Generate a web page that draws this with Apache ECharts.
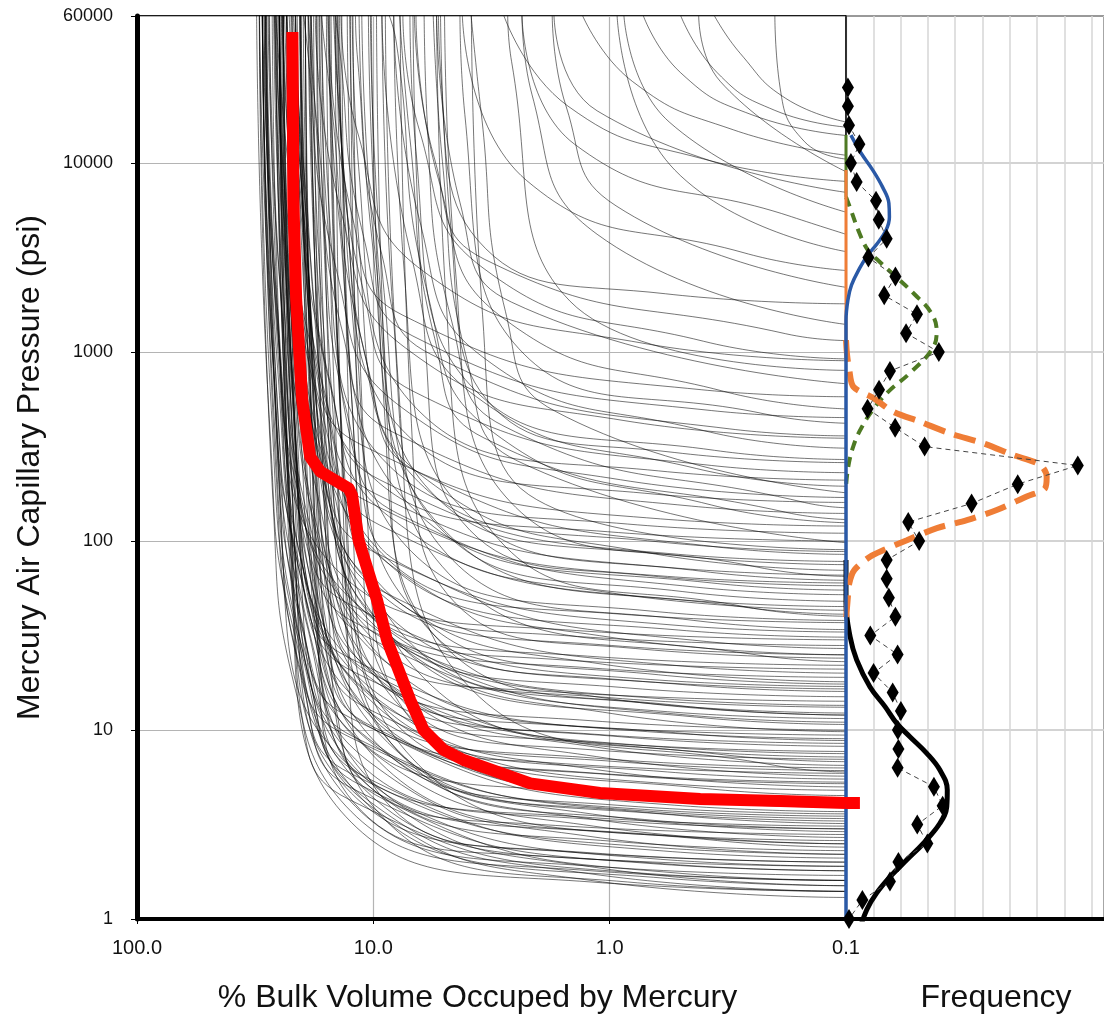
<!DOCTYPE html>
<html>
<head>
<meta charset="utf-8">
<script src="https://cdn.jsdelivr.net/npm/echarts@6/dist/echarts.min.js"></script>
<style>
  html, body { margin: 0; padding: 0; background: #ffffff; }
  #chart { width: 1104px; height: 1016px; }
</style>
</head>
<body>
<div id="chart"></div>
<script>
// Mercury injection curves, one per sample: [% bulk volume occupied, pressure psi]
const sampleCurves = [
  [[0.1,1.4],[1.2,1.57],[12.4,3.25],[22.1,60],[25,7e4]],
  [[0.1,1.5],[0.57,1.64],[10.6,4.05],[21.9,156],[25,7e4]],
  [[0.1,1.6],[0.69,1.74],[12.8,4.32],[20.9,14.6],[26.6,166],[30.4,7e4]],
  [[0.1,1.7],[1.16,1.9],[11.9,3.94],[21.3,73],[24.2,7e4]],
  [[0.1,1.8],[0.59,1.96],[10.9,4.86],[22.7,187],[25.9,7e4]],
  [[0.1,1.9],[0.61,2.07],[11.3,5.1],[18.4,17.3],[23.4,198],[26.8,7e4]],
  [[0.1,2.0],[1.2,2.24],[12.4,4.64],[22.1,86],[25.1,7e4]],
  [[0.1,2.2],[0.67,2.4],[12.5,5.9],[20.2,20],[25.8,229],[29.5,7e4]],
  [[0.1,2.3],[0.98,2.58],[10.1,5.3],[18.0,99],[20.4,7e4]],
  [[0.1,2.5],[0.51,2.73],[9.4,6.75],[19.5,260],[22.3,7e4]],
  [[0.1,2.6],[1.11,2.9],[11.5,6.0],[20.5,112],[23.3,7e4]],
  [[0.1,2.8],[1.94,3.16],[11.2,5.5],[17.2,49],[19.4,7e4]],
  [[0.1,3.0],[1.16,3.36],[11.9,7.0],[21.3,129],[24.1,7e4]],
  [[0.1,3.2],[0.47,3.5],[8.7,8.6],[18,333],[20.5,7e4]],
  [[0.1,3.4],[0.65,3.7],[12.1,9.2],[19.6,31],[25,354],[28.6,7e4]],
  [[0.1,3.6],[0.93,4.0],[9.6,8.4],[17.2,155],[19.4,7e4]],
  [[0.1,3.9],[0.55,4.25],[10.2,10.5],[16.6,35.5],[21.1,406],[24.1,7e4]],
  [[0.1,4.2],[1.2,4.7],[12.4,9.7],[22.1,181],[25,7e4]],
  [[0.1,4.5],[0.39,4.9],[7.2,12.2],[14.8,468],[17,7e4]],
  [[0.1,4.8],[0.57,5.2],[10.6,13],[17.2,43.7],[21.9,500],[25,7e4]],
  [[0.1,5.2],[0.98,5.8],[10.1,12.1],[18,224],[20.3,7e4]],
  [[0.1,5.5],[0.57,6.0],[10.6,14.9],[21.9,572],[25,7e4]],
  [[0.1,5.9],[1.75,6.7],[10.1,11.6],[15.5,103],[17.4,7e4]],
  [[0.1,6.3],[1.16,7.1],[11.9,14.6],[21.3,271],[24,7e4]],
  [[0.1,6.8],[0.33,7.4],[6.0,18.4],[12.5,707],[14.3,7e4]],
  [[0.1,7.2],[0.53,7.85],[9.8,19.4],[16,65.5],[20.3,749],[23.2,7e4]],
  [[0.1,7.7],[1.16,8.6],[11.9,17.9],[21.3,331],[24.1,7e4]],
  [[0.1,8.2],[0.89,9.2],[9.2,19],[16.4,353],[18.5,7e4]],
  [[0.1,8.8],[0.49,9.6],[9.1,23.8],[18.8,915],[21.4,7e4]],
  [[0.1,9.4],[1.65,10.6],[9.5,18.4],[14.7,165],[16.5,7e4]],
  [[0.1,10],[1.2,11.2],[12.4,23.2],[22.1,430],[25,7e4]],
  [[0.1,10.7],[0.43,11.7],[7.9,28.9],[16.4,1113],[18.8,7e4]],
  [[0.1,11.5],[0.57,12.5],[10.6,31],[17.2,105],[21.9,1196],[25,7e4]],
  [[0.1,12.3],[0.67,13.8],[6.9,28.5],[12.3,529],[13.9,7e4]],
  [[0.1,13.2],[0.98,14.8],[10.1,30.6],[18,568],[20.3,7e4]],
  [[0.1,14.2],[1.84,16],[10.6,27.8],[16.4,249],[18.4,7e4]],
  [[0.1,16],[0.49,17.4],[9.1,43],[18.8,1664],[21,7e4]],
  [[0.1,17.5],[0.62,19.6],[6.4,40.6],[11.5,753],[12.9,7e4]],
  [[0.1,19],[1.2,21.3],[12.4,44],[22.1,817],[24.8,7e4]],
  [[0.1,21],[1.75,23.7],[10.1,41],[15.5,368],[17.3,7e4]],
  [[0.1,23],[0.24,25],[4.5,62],[9.4,2392],[10.5,7e4]],
  [[0.1,25],[0.98,28],[10.1,58],[18,1075],[20.2,7e4]],
  [[0.1,28],[1.55,31.6],[8.9,55],[13.8,490],[15.4,7e4]],
  [[0.1,31],[0.51,33.8],[9.4,84],[19.5,3224],[22,7e4]],
  [[0.1,34],[0.44,38],[4.6,79],[8.2,1462],[9.2,7e4]],
  [[0.1,37],[0.89,41],[9.2,86],[16.4,1591],[18.3,7e4]],
  [[0.1,41],[0.27,44.7],[4.9,111],[10.2,4264],[11.5,7e4]],
  [[0.1,45],[0.51,49],[9.4,121.5],[15.3,410],[19.5,4680],[22.3,7e4]],
  [[0.1,55],[0.37,60],[6.8,149],[14.1,5720],[15.6,7e4]],
  [[0.1,62],[0.4,69],[4.1,144],[7.4,2666],[8.2,7e4]],
  [[0.1,70],[0.7,87],[5.9,210],[11.2,1150],[15.3,24500],[16.8,7e4]],
  [[0.1,78],[0.51,85],[9.4,211],[15.3,710],[19.5,8112],[21.9,7e4]],
  [[0.1,88],[0.62,99],[6.4,204],[11.5,3784],[12.6,7e4]],
  [[0.1,98],[2.45,265],[4.0,892],[5.1,10190],[5.6,7e4]],
  [[0.1,110],[0.84,123],[8.7,255],[15.6,4730],[16.9,7e4]],
  [[0.1,125],[0.37,155],[3.1,375],[5.9,2050],[8.0,43750],[9.0,7e4]],
  [[0.1,140],[0.45,153],[8.3,378],[13.5,1274],[17.2,14560],[19,7e4]],
  [[0.1,160],[0.71,179],[7.3,371],[13.1,6880],[14.2,7e4]],
  [[0.1,180],[1.7,486],[2.76,1638],[3.5,18720],[3.9,7e4]],
  [[0.1,195],[0.43,242],[3.7,585],[6.9,3200],[9.2,6e4]],
  [[0.1,230],[0.37,251],[6.8,621],[11.0,2093],[14.1,23920],[14.5,6e4]],
  [[0.1,270],[0.36,302],[3.7,626],[6.6,11610],[7.0,6e4]],
  [[0.1,310],[0.4,384],[3.4,930],[6.4,5090],[8.2,6e4]],
  [[0.1,360],[0.31,392],[5.7,972],[9.2,3276],[11.7,37440],[11.9,6e4]],
  [[0.1,420],[0.22,470],[2.3,974],[4.1,18060],[4.3,6e4]],
  [[0.1,500],[0.33,620],[2.8,1500],[5.3,8200],[6.6,6e4]],
  [[0.1,580],[0.41,632],[7.5,1566],[12.3,5278],[15.5,6e4]],
  [[0.1,680],[2.6,1836],[4.3,6188],[5.4,6e4]],
  [[0.1,800],[1.47,1856],[2.6,34400],[2.7,6e4]],
  [[0.1,920],[0.4,1140],[3.4,2760],[6.4,15090],[7.5,6e4]],
  [[0.1,1150],[0.18,1250],[3.4,3105],[5.5,10465],[6.7,6e4]],
  [[0.1,1400],[1.13,4200],[2.13,22960],[2.35,6e4]],
  [[0.1,1800],[0.58,2034],[3.35,3528],[5.2,31500],[5.3,6e4]],
  [[0.1,2200],[0.94,5940],[1.53,20020],[1.75,6e4]],
  [[0.1,2700],[0.27,3350],[2.25,8100],[4.2,6e4]],
  [[0.1,3400],[0.53,9180],[0.93,6e4]],
  [[0.1,4200],[0.17,5200],[1.41,12600],[2.35,6e4]],
  [[0.1,5500],[0.56,16500],[0.87,6e4]],
  [[0.1,7000],[1.13,18900],[1.72,6e4]],
  [[0.1,9000],[0.34,27000],[0.42,6e4]],
  [[0.1,14000],[0.25,18000],[0.5,30000],[0.72,6e4]],
  [[0.1,15500],[0.2,19000],[0.35,30000],[0.5,6e4]],
  [[0.1,16500],[0.18,22000],[0.28,38000],[0.36,6e4]],
  [[0.1,11000],[0.3,15000],[0.8,27000],[1.3,6e4]],
  [[0.1,8000],[0.4,10500],[1.5,20000],[2.8,6e4]],
  [[0.1,10500],[0.15,13000],[0.19,25000],[0.2,6e4]],
  [[0.1,40],[0.27,45],[2.75,93],[4.9,1720],[5.4,7e4]],
  [[0.1,90],[2.2,176],[3.45,1575],[3.85,7e4]],
  [[0.1,150],[0.15,160],[2.8,405],[4.6,1365],[5.9,15600],[6.1,7e4]],
  [[0.1,24],[0.78,27],[4.5,47],[6.9,420],[7.7,7e4]],
  [[0.1,65],[0.24,73],[2.5,151],[4.5,2795],[5.0,7e4]],
  [[0.1,12],[0.49,13.4],[5.0,27.8],[9.0,516],[10.2,7e4]],
  [[0.1,7],[1.26,7.9],[7.3,13.7],[11.2,122],[12.5,7e4]],
  [[0.1,3.3],[0.76,3.7],[7.8,7.7],[13.9,142],[15.8,7e4]],
  [[0.1,2.0],[1.46,2.26],[8.4,3.9],[12.9,35],[14.5,7e4]],
  [[0.1,1.6],[0.49,1.74],[9.1,4.32],[14.7,14.6],[18.8,166],[21.4,7e4]],
  [[0.1,2.9],[1.2,3.6],[10.1,8.7],[19.1,47.6],[26.3,1015],[29.5,7e4]],
  [[0.1,5.0],[1.17,6.2],[9.9,15],[18.6,82],[25.5,1750],[28.7,7e4]],
  [[0.1,9.0],[0.69,9.8],[12.8,24.3],[20.9,82],[26.6,936],[30.4,7e4]],
  [[0.1,1.3],[1.2,1.6],[10.1,3.9],[19.1,21.3],[26.3,455],[29.5,7e4]],
  [[0.1,17],[0.67,18.5],[12.5,46],[20.2,155],[25.8,1768],[29.5,7e4]],
  [[0.1,30],[1.38,33.6],[14.2,70],[25.4,1290],[29,7e4]],
  [[0.1,60],[0.57,65],[10.6,162],[17.2,546],[21.9,6240],[24.5,7e4]],
  [[0.1,120],[0.61,131],[11.3,324],[18.4,1092],[23.4,12480],[26,7e4]],
  [[0.1,1.4],[0.84,1.57],[8.7,3.25],[15.6,60],[17.9,7e4]],
  [[0.1,2.4],[0.35,2.6],[6.4,6.5],[13.3,250],[15.3,7e4]],
  [[0.1,4.0],[0.58,4.5],[6.0,9.3],[10.7,172],[12.2,7e4]],
  [[0.1,6.0],[0.2,6.5],[3.8,16.2],[7.8,624],[8.9,7e4]],
  [[0.1,350],[0.87,434],[7.3,1050],[13.8,5740],[17.6,6e4]],
  [[0.1,900],[0.73,1116],[6.2,2700],[11.7,14760],[13.7,6e4]],
  [[0.1,1.4],[1.23,1.74],[10.4,4.2],[19.7,23],[27,490],[30.3,7e4]],
  [[0.1,2.2],[1.2,2.73],[10.1,6.6],[19.1,36],[26.3,770],[29.5,7e4]],
  [[0.1,3.5],[0.71,3.8],[13.2,9.45],[21.5,31.9],[27.3,364],[31.2,7e4]],
  [[0.1,6.5],[1.13,8.1],[9.6,19.5],[18.1,107],[24.8,2275],[27.9,7e4]],
  [[0.1,12],[1.1,14.9],[9.3,36],[17.6,197],[24.1,4200],[26.2,7e4]],
  [[0.1,25],[1.0,31],[8.5,75],[16,410],[21.9,8750],[23.3,7e4]],
  [[0.1,1.5],[1.1,1.86],[9.3,4.5],[17.6,24.6],[24.1,525],[27.5,7e4]],
  [[0.1,1.8],[0.65,1.96],[12.1,4.86],[19.6,16.4],[25,187],[28.6,7e4]],
  [[0.1,2.1],[0.59,2.29],[10.9,5.67],[17.8,19.1],[22.7,218],[25.9,7e4]],
  [[0.1,2.7],[1.13,3.35],[9.6,8.1],[18.1,44],[24.8,945],[28.3,7e4]],
  [[0.1,3.1],[1.33,3.47],[13.8,7.2],[24.6,133],[28.3,7e4]],
  [[0.1,3.7],[0.53,4.0],[9.8,10],[16,33.7],[20.3,385],[23.2,7e4]],
  [[0.1,4.3],[0.67,4.7],[12.5,11.6],[20.2,39],[25.8,447],[29.5,7e4]],
  [[0.1,5.7],[1.03,7.1],[8.7,17.1],[16.5,93.5],[22.6,1995],[25.8,7e4]],
  [[0.1,6.1],[0.93,6.8],[9.6,14.2],[17.2,262],[19.8,7e4]],
  [[0.1,7.5],[0.65,8.2],[12.1,20.3],[19.6,68],[25,780],[28.6,7e4]],
  [[0.1,8.5],[1.16,9.5],[11.9,19.7],[21.3,365],[24.5,7e4]],
  [[0.1,9.8],[0.97,12.2],[8.2,29.4],[15.4,161],[21.2,3430],[24.2,7e4]],
  [[0.1,11],[0.47,12],[8.7,29.7],[14.1,100],[18,1144],[20.5,7e4]],
  [[0.1,13.5],[0.63,14.7],[11.7,36.5],[19,123],[24.2,1404],[27.7,7e4]],
  [[0.1,15],[0.89,16.8],[9.2,34.8],[16.4,645],[18.9,7e4]],
  [[0.1,18],[1.07,22.3],[9,54],[17,295],[23.4,6300],[26.3,7e4]],
  [[0.1,20],[0.49,21.8],[9.1,54],[14.7,182],[18.8,2080],[21.4,7e4]],
  [[0.1,22],[1.24,24.6],[12.8,51],[23,946],[26.4,7e4]],
  [[0.1,27],[0.39,29.4],[7.2,73],[11.7,246],[14.8,2808],[16.7,7e4]],
  [[0.1,33],[0.55,36],[10.2,89],[16.6,300],[21.1,3432],[23.8,7e4]],
  [[0.1,38],[0.67,42.6],[6.9,88],[12.3,1634],[14.1,7e4]],
  [[0.1,43],[0.97,53],[8.2,129],[15.4,705],[21.2,15050],[23.5,7e4]],
  [[0.1,48],[0.49,54],[5.0,111],[9.0,2064],[10.3,7e4]],
  [[0.1,52],[0.43,57],[7.9,140],[12.9,473],[16.4,5408],[18.4,7e4]],
  [[0.1,58],[0.68,65.5],[3.9,114],[6.0,1015],[6.8,7e4]],
  [[0.1,66],[0.53,72],[9.8,178],[16,600],[20.3,6864],[22.8,7e4]],
  [[0.1,75],[0.53,84],[5.5,174],[9.8,3225],[11.2,7e4]],
  [[0.1,85],[0.35,93],[6.4,230],[10.4,774],[13.3,8840],[14.8,7e4]],
  [[0.1,100],[1.02,112],[10.6,232],[18.9,4300],[21.3,7e4]],
  [[0.1,130],[0.18,142],[3.4,351],[5.5,1183],[7.0,13520],[7.8,7e4]],
  [[0.1,170],[0.9,211],[7.6,510],[14.4,2788],[19.7,59500],[20,7e4]],
  [[0.1,210],[0.62,235],[6.4,487],[11.5,9030],[12.3,7e4]],
  [[0.1,260],[0.53,294],[3.1,510],[4.7,4550],[5.2,7e4]],
  [[0.1,450],[0.37,490],[6.8,1215],[11.0,4095],[14.1,46800],[14.5,6e4]],
  [[0.1,1.9],[1.94,2.15],[11.2,3.72],[17.2,33],[19.4,7e4]],
  [[0.1,3.0],[0.71,3.36],[7.3,7.0],[13.1,129],[15.1,7e4]],
  [[0.1,5.3],[1.36,6.0],[7.8,10.4],[12.1,93],[13.6,7e4]],
  [[0.1,16.5],[0.97,18.6],[5.6,32.3],[8.6,289],[9.7,7e4]],
  [[0.1,1.6],[1.2,1.8],[12.4,3.7],[22.1,69],[25.5,7e4]],
  [[0.1,2.5],[1.17,3.1],[9.9,7.5],[18.6,41],[25.5,875],[29,7e4]]
];

// Composite (red) curve
const compositeCurve = [
  [22.0,49330],[21.8,6370],[21.2,1884],[20.0,557],[18.5,279],[16.75,233],
  [12.72,190],[12.31,175],[11.54,101],[10.99,82.6],[9.65,48.7],[8.75,29.9],
  [6.98,14.4],[6.13,10],[5.04,7.84],[4.15,6.94],[2.17,5.22],[1.10,4.64],
  [0.414,4.31],[0.19,4.21],[0.1,4.11]
];
// its end marker running into the frequency panel: [frequency %, psi]
const compositeTail = [[0,4.11],[0.51,4.11]];

// Pore-throat frequency histogram: bin pressure (psi) and frequency (%)
const binPressure = [25119,19953,15849,12589,10000,7943,6310,5012,3981,3162,2512,1995,
  1585,1259,1000,794,631,501,398,316,251,200,158,126,100,79.4,63.1,50.1,39.8,31.6,
  25.1,20.0,15.8,12.6,10.0,7.94,6.31,5.01,3.98,3.16,2.51,2.00,1.58,1.26,1.00];
const binFrequency = [0.07,0.07,0.11,0.49,0.18,0.39,1.10,1.20,1.49,0.82,1.81,1.40,
  2.60,2.20,3.40,1.61,1.21,0.79,1.80,2.88,8.49,6.29,4.60,2.28,2.68,1.49,1.49,1.57,
  1.81,0.89,1.89,1.01,1.71,2.01,1.90,1.92,1.89,3.22,3.54,2.61,2.98,1.92,1.61,0.60,0.11];

// Fitted pore systems: [frequency %, pressure psi]
const fitSystem3 = [[0.18,14060],[0.55,11300],[0.98,9180],[1.34,7460],[1.57,6140],[1.59,5180],
  [1.47,4420],[1.16,3775],[0.80,3260],[0.50,2780],[0.20,2260],[0.07,1885],[0,1477],[0,1]];
const fitSystem2Base = [[0,14060],[0,6610]];
const fitSystem2 = [[0,6610],[0.18,5640],[0.49,4265],[0.8,3465],[1.2,3030],[1.84,2495],[2.5,2028],
  [3.1,1628],[3.32,1307],[3.2,1062],[2.34,774],[1.61,629],[1.06,512],[0.58,401],[0.27,318],
  [0.08,246],[0,193]];
const fitSystem1Base = [[0,9180],[0,1157]];
const fitSystem1 = [[0,1157],[0.04,964],[0.12,803],[0.27,655],[1.0,571],[1.73,483],[2.71,428],
  [3.81,371],[5.03,329],[6.13,285],[7.11,253],[7.35,219],[7.29,190],[6.62,172],[5.52,146],
  [4.43,129],[3.33,117],[2.23,101],[1.38,89.6],[0.88,82.6],[0.31,70.3],[0.12,59.7],[0.06,48.7],[0,38.2]];
const fitSystemM = [[0,79.3],[0,46.8],[0.15,31.2],[0.39,23.5],[0.88,16.9],[1.43,13.3],[1.86,10.85],
  [2.34,9.22],[2.96,7.53],[3.44,6.14],[3.71,4.81],[3.69,3.93],[3.44,3.21],[2.83,2.51],[2.22,2.05],
  [1.61,1.67],[1.12,1.37],[0.76,1.12],[0.5,0.875]];
const fitLabels = [['3',2.64,6610],['2',4.14,1648],['1',7.69,351],['M',4.76,6.0]];

const pressureTicks = [1,10,100,1000,10000,60000];

const FONT = 'Liberation Sans, Arial, Helvetica, sans-serif';
const chart = echarts.init(document.getElementById('chart'), null, { renderer: 'canvas' });

const series = [];
sampleCurves.forEach(function (c) {
  series.push({
    type: 'line', xAxisIndex: 0, yAxisIndex: 0, data: c,
    symbol: 'none', smooth: 0.5, silent: true, z: 2,
    lineStyle: { color: 'rgba(0,0,0,0.68)', width: 0.8 }
  });
});
const redStyle = { color: '#ff0000', width: 12, cap: 'butt', join: 'round' };
series.push({
  type: 'line', xAxisIndex: 0, yAxisIndex: 0, data: compositeCurve,
  symbol: 'none', z: 8, silent: true, lineStyle: redStyle
});
series.push({
  type: 'line', xAxisIndex: 1, yAxisIndex: 1, data: compositeTail,
  symbol: 'none', z: 8, silent: true, lineStyle: redStyle
});
function fit(data, color, width, type, smooth) {
  return {
    type: 'line', xAxisIndex: 1, yAxisIndex: 1, data: data, symbol: 'none',
    smooth: smooth, silent: true, z: 3,
    lineStyle: { color: color, width: width, type: type, cap: 'butt' }
  };
}
series.push(fit(fitSystemM, '#000000', 5, 'solid', 0.4));
series.push(fit(fitSystem2Base, '#4e7a23', 3, 'solid', false));
series.push(fit(fitSystem2, '#4e7a23', 4, [10, 7], 0.4));
series.push(fit(fitSystem1Base, '#ef7d36', 3, 'solid', false));
series.push(fit(fitSystem1, '#ef7d36', 6, [22, 10], 0.3));
series.push(fit(fitSystem3, '#2a59a6', 3.5, 'solid', 0.4));
series.push({
  type: 'line', xAxisIndex: 1, yAxisIndex: 1, z: 5,
  data: binPressure.map(function (p, i) { return [binFrequency[i], p]; }),
  symbol: 'diamond', symbolSize: [12, 20],
  itemStyle: { color: '#000000' },
  lineStyle: { color: '#444444', width: 1, type: [5, 4] }
});
series.push({
  type: 'scatter', xAxisIndex: 1, yAxisIndex: 1, z: 6, silent: true,
  symbolSize: 1, itemStyle: { opacity: 0 },
  data: fitLabels.map(function (l) { return { name: l[0], value: [l[1], l[2]] }; }),
  label: {
    show: true, position: 'inside', formatter: '{b}',
    fontFamily: 'Open Sans, sans-serif', fontSize: 22, color: '#111111'
  }
});

chart.setOption({
  animation: false,
  backgroundColor: '#ffffff',
  grid: [
    { left: 137, top: 16, width: 709, height: 903, show: true, borderColor: '#1a1a1a', borderWidth: 2,
      outerBoundsMode: 'none', containLabel: false },
    { left: 846, top: 16, width: 258, height: 903, show: true, borderColor: '#1a1a1a', borderWidth: 2,
      outerBoundsMode: 'none', containLabel: false }
  ],
  xAxis: [
    {
      gridIndex: 0, type: 'log', logBase: 10, min: 0.1, max: 100, inverse: true,
      name: '% Bulk Volume Occuped by Mercury', nameLocation: 'middle', nameGap: 63,
      nameTextStyle: { fontFamily: FONT, fontSize: 32, color: '#111', padding: [0, 28, 0, 0] },
      axisLine: { show: true, lineStyle: { color: '#000', width: 4 } },
      axisTick: { show: true, length: 5, lineStyle: { color: '#000', width: 1 } },
      axisLabel: {
        margin: 19, fontFamily: FONT, fontSize: 20, color: '#111',
        formatter: function (v) { return Number(v).toFixed(1); }
      },
      splitLine: { show: true, lineStyle: { color: '#b4b4b4', width: 1.2 } },
      minorTick: { show: false }, minorSplitLine: { show: false }
    },
    {
      gridIndex: 1, type: 'value', min: 0, max: 9.45, interval: 1,
      name: 'Frequency', nameLocation: 'middle', nameGap: 63,
      nameTextStyle: { fontFamily: FONT, fontSize: 32, color: '#111', padding: [0, 0, 0, 42] },
      axisLine: { show: true, lineStyle: { color: '#000', width: 4 } },
      axisTick: { show: false }, axisLabel: { show: false },
      splitLine: { show: true, lineStyle: { color: '#d6d6d6', width: 1.5 } }
    }
  ],
  yAxis: [
    {
      gridIndex: 0, type: 'log', logBase: 10, min: 1, max: 60000,
      name: 'Mercury Air Capillary Pressure (psi)', nameLocation: 'middle', nameGap: 91,
      nameTextStyle: { fontFamily: FONT, fontSize: 32, color: '#111' },
      axisLine: { show: true, lineStyle: { color: '#000', width: 5 } },
      axisTick: { show: true, length: 6, customValues: pressureTicks, lineStyle: { color: '#000', width: 1 } },
      axisLabel: {
        margin: 24, fontFamily: FONT, fontSize: 18, color: '#111',
        customValues: pressureTicks,
        formatter: function (v) { return String(Math.round(v)); }
      },
      splitLine: { show: true, lineStyle: { color: '#b4b4b4', width: 1.2 } },
      minorTick: { show: false }, minorSplitLine: { show: false }
    },
    {
      gridIndex: 1, type: 'log', logBase: 10, min: 1, max: 60000,
      axisLine: { show: true, lineStyle: { color: '#000', width: 1.5 } },
      axisTick: { show: false }, axisLabel: { show: false },
      splitLine: { show: true, lineStyle: { color: '#c4c4c4', width: 1.5 } }
    }
  ],
  series: series
});
</script>
</body>
</html>
